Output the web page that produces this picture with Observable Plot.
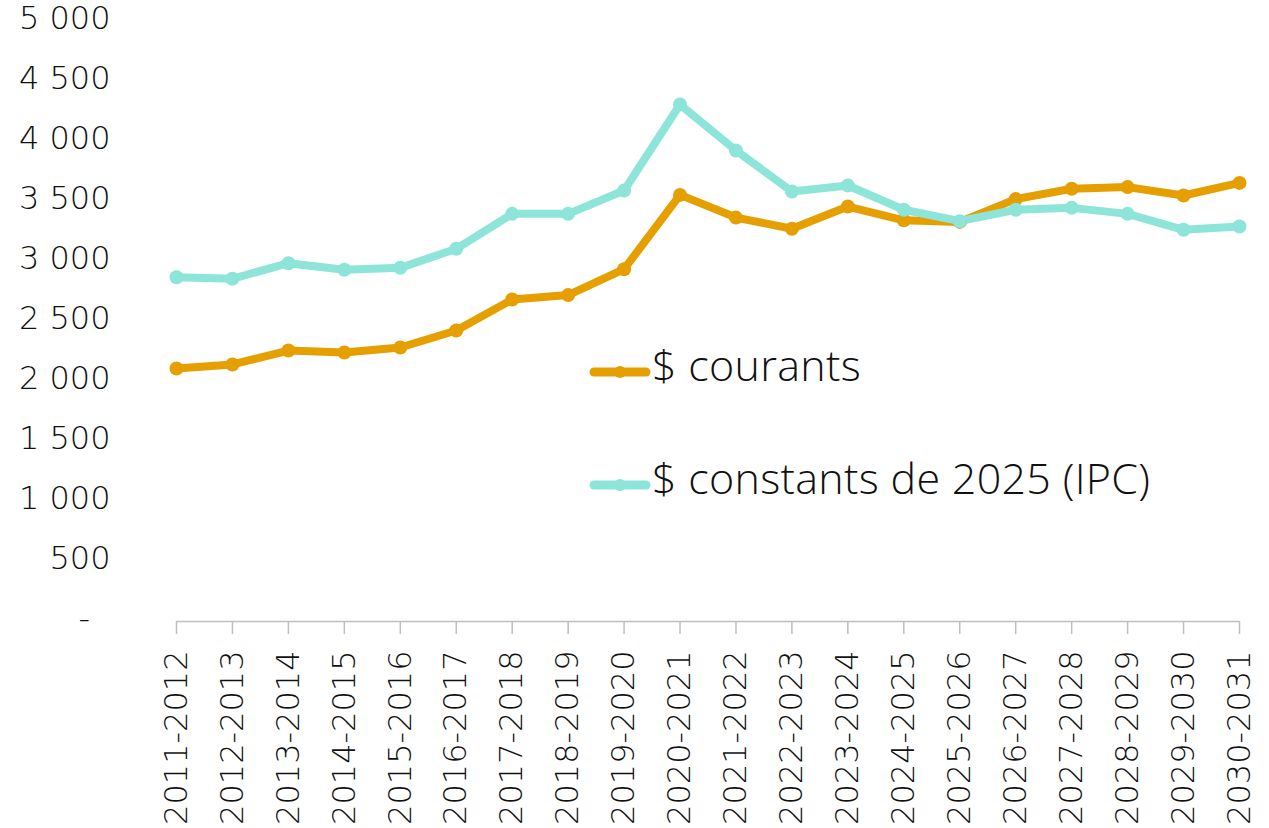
<!DOCTYPE html>
<html>
<head>
<meta charset="utf-8">
<script src="https://cdn.jsdelivr.net/npm/d3@7"></script>
<script src="https://cdn.jsdelivr.net/npm/@observablehq/plot@0.6"></script>
<style>
  html, body { margin: 0; padding: 0; background: #fff; }
  #wrap { position: relative; width: 1269px; height: 828px; overflow: hidden; }
  .legend { position: absolute; left: 588px; height: 50px; font-family: "Open Sans", sans-serif; font-weight: 300; font-size: 43px; line-height: 50px; color: #111; display: flex; align-items: flex-start; white-space: nowrap; }
  .legend span { letter-spacing: 0.3px; }
  .legend svg { display: block; margin-top: 22px; margin-right: 0px; }
</style>
</head>
<body>
<div id="wrap"></div>
<script>
const years = ["2011-2012","2012-2013","2013-2014","2014-2015","2015-2016","2016-2017","2017-2018","2018-2019","2019-2020","2020-2021","2021-2022","2022-2023","2023-2024","2024-2025","2025-2026","2026-2027","2027-2028","2028-2029","2029-2030","2030-2031"];
const courants = [2108,2142,2258,2242,2283,2425,2683,2720,2936,3555,3366,3273,3458,3343,3330,3520,3606,3620,3550,3655];
const constants = [2869,2856,2986,2931,2947,3106,3397,3397,3592,4308,3925,3583,3633,3431,3336,3431,3447,3397,3264,3292];
const seriesNames = ["$ courants", "$ constants de 2025 (IPC)"];
const seriesColors = ["#E69F00", "#8DE5D9"];
const yTicks = [0,500,1000,1500,2000,2500,3000,3500,4000,4500,5000];

const rows = [];
years.forEach((yr, i) => {
  rows.push({year: yr, value: courants[i], series: seriesNames[0]});
  rows.push({year: yr, value: constants[i], series: seriesNames[1]});
});
const fmt = d => d === 0 ? "-\u00a0\u00a0" : d3.format(",")(d).replace(/,/g, " ");

const chart = Plot.plot({
  width: 1269,
  height: 828,
  marginLeft: 176,
  marginRight: 30,
  marginTop: 21,
  marginBottom: 207,
  style: {fontFamily: "DejaVu Sans", fontSize: "32px", color: "#111", background: "#fff", fontWeight: 200},
  x: {type: "point", domain: years, padding: 0, round: false},
  y: {domain: [0, 5000]},
  color: {domain: seriesNames, range: seriesColors},
  marks: [
    Plot.axisY({ticks: yTicks, tickSize: 0, tickPadding: 66, tickFormat: fmt, label: null, dy: -3}),
    Plot.axisX({tickRotate: -90, tickSize: 13, tickPadding: 16, stroke: "#BFBFBF", strokeWidth: 1.5, label: null}),
    Plot.ruleY([0], {stroke: "#BFBFBF", strokeWidth: 1.5}),
    Plot.line(rows, {x: "year", y: "value", z: "series", stroke: "series", strokeWidth: 8, strokeLinejoin: "round", strokeLinecap: "round"}),
    Plot.dot(rows, {x: "year", y: "value", fill: "series", r: 7})
  ]
});
chart.querySelectorAll('[aria-label="x-axis tick label"] text, [aria-label="y-axis tick label"] text').forEach(t => t.setAttribute("fill", "#111"));
const wrap = document.getElementById("wrap");
wrap.appendChild(chart);

const legendTops = [340, 453];
seriesNames.forEach((name, i) => {
  const div = document.createElement("div");
  div.className = "legend";
  div.style.top = legendTops[i] + "px";
  const c = seriesColors[i];
  div.innerHTML = `<svg width="64" height="20"><line x1="6" y1="10" x2="58" y2="10" stroke="${c}" stroke-width="9" stroke-linecap="round"/><circle cx="32" cy="10" r="6" fill="${c}"/></svg><span>${name}</span>`;
  wrap.appendChild(div);
});
</script>
</body>
</html>
